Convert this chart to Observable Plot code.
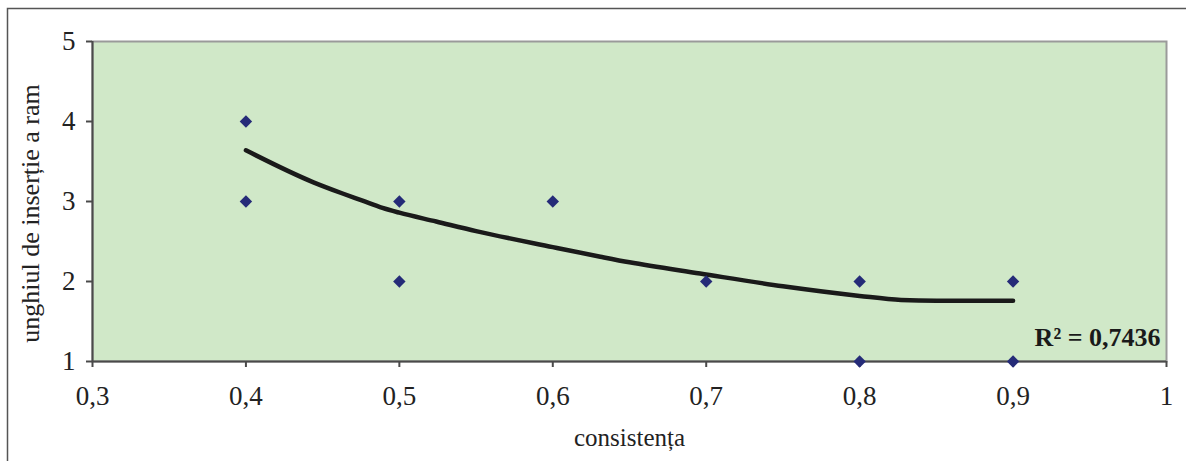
<!DOCTYPE html>
<html>
<head>
<meta charset="utf-8">
<script src="https://cdn.jsdelivr.net/npm/d3@7"></script>
<script src="https://cdn.jsdelivr.net/npm/@observablehq/plot@0.6"></script>
<style>
  html, body { margin: 0; padding: 0; background: #fff; }
  svg { display: block; }
</style>
</head>
<body>
<div id="chart"></div>
<script>
// observed points
const consistenta = [0.4, 0.4, 0.5, 0.5, 0.6, 0.7, 0.8, 0.8, 0.9, 0.9];
const unghiul     = [4,   3,   3,   2,   3,   2,   2,   1,   2,   1];

// trend line
const trendX = [0.40, 0.444, 0.463, 0.476, 0.489, 0.50, 0.524, 0.55, 0.60, 0.631, 0.65, 0.696, 0.75, 0.80, 0.827, 0.85, 0.90];
const trendY = [3.64, 3.24,  3.10,  3.01,  2.92,  2.86, 2.75,  2.63, 2.43, 2.31,  2.24, 2.10,  1.94, 1.82, 1.77,  1.76, 1.76];

const xTicks = [0.3, 0.4, 0.5, 0.6, 0.7, 0.8, 0.9, 1.0];
const xTickLabels = ["0,3", "0,4", "0,5", "0,6", "0,7", "0,8", "0,9", "1"];
const yTicks = [1, 2, 3, 4, 5];
const yTickLabels = ["1", "2", "3", "4", "5"];

const xLabel = "consistența";
const yLabel = "unghiul de inserție a ram";
const r2Label = "R² = 0,7436";

const points = consistenta.map((x, i) => ({x, y: unghiul[i]}));
const trend = trendX.map((x, i) => ({x, y: trendY[i]}));
const xTickData = xTicks.map((x, i) => ({x, label: xTickLabels[i]}));
const yTickData = yTicks.map((y, i) => ({y, label: yTickLabels[i]}));

const font = "Liberation Serif, Times New Roman, serif";

const chart = Plot.plot({
  width: 1186,
  height: 461,
  marginLeft: 92,
  marginRight: 20,
  marginTop: 41,
  marginBottom: 100,
  style: {fontFamily: font, fontSize: "26px", background: "#fff", color: "#222"},
  x: {domain: [0.3, 1]},
  y: {domain: [1, 5]},
  marks: [
    Plot.frame({fill: "#d0e8c8", stroke: "#9a9a9a", strokeWidth: 2}),
    Plot.ruleX([0.3], {stroke: "#4a4a4a", strokeWidth: 2}),
    Plot.ruleY([1], {stroke: "#4a4a4a", strokeWidth: 2}),
    Plot.axisX({ticks: xTicks, tickFormat: () => "", tickSize: 6, stroke: "#4a4a4a", strokeWidth: 2, label: null}),
    Plot.axisY({ticks: yTicks, tickFormat: () => "", tickSize: 6, stroke: "#4a4a4a", strokeWidth: 2, label: null}),
    Plot.text(xTickData, {x: "x", frameAnchor: "bottom", text: "label", textAnchor: "middle", lineAnchor: "middle",
      dy: 35, fontSize: 27, fill: "#222"}),
    Plot.text(yTickData, {y: "y", frameAnchor: "left", text: "label", textAnchor: "end", lineAnchor: "middle",
      dx: -17, fontSize: 27, fill: "#222"}),
    Plot.line(trend, {x: "x", y: "y", stroke: "#1a1a1a", strokeWidth: 4.5, curve: "monotone-x"}),
    Plot.dot(points, {x: "x", y: "y", symbol: "diamond2", r: 5.6, fill: "#252b78", stroke: "none"}),
    Plot.text([r2Label], {frameAnchor: "bottom-right", text: d => d, textAnchor: "end", lineAnchor: "middle",
      dx: -6, dy: -24, fontSize: 26, fontWeight: "bold", fill: "#1a1a1a"}),
    Plot.text([xLabel], {frameAnchor: "bottom", text: d => d, textAnchor: "middle", lineAnchor: "middle", dy: 76, fontSize: 25, fill: "#222"}),
    Plot.text([yLabel], {frameAnchor: "left", text: d => d, textAnchor: "middle", rotate: -90, lineAnchor: "middle", dx: -62, dy: 12, fontSize: 26, fill: "#222"})
  ]
});

// outer chart border (extends beyond the visible window on right/bottom)
d3.select(chart).insert("rect", ":first-child")
  .attr("x", 7.5).attr("y", 8.5).attr("width", 1200).attr("height", 500)
  .attr("fill", "none").attr("stroke", "#555").attr("stroke-width", 1.5);

document.getElementById("chart").appendChild(chart);
</script>
</body>
</html>
